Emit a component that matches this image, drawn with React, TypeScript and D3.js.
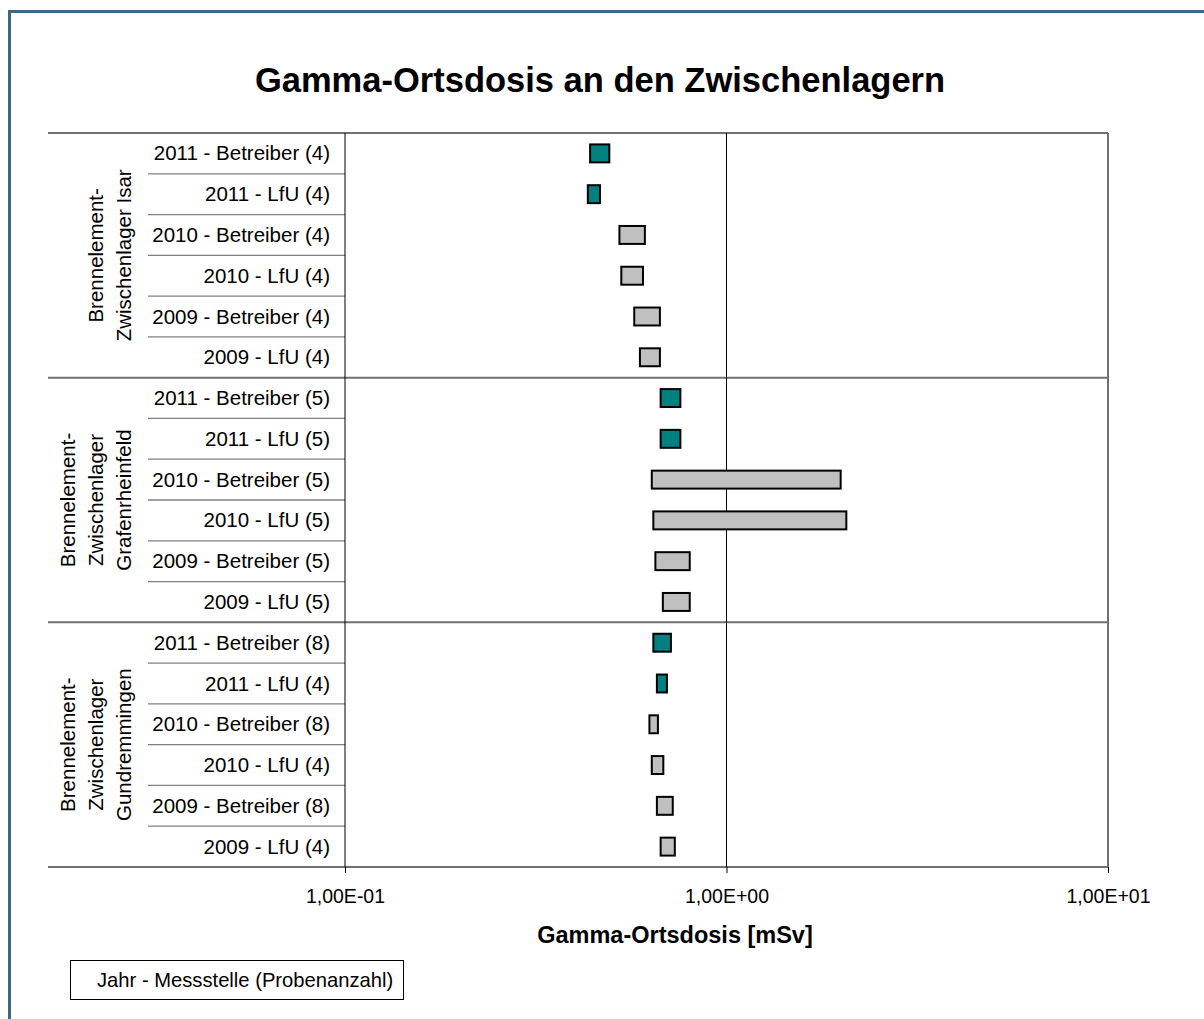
import React, { useEffect, useRef } from 'react';
import * as d3 from 'd3';

// Gamma-Ortsdosis an den Zwischenlagern – range bars (min..max) per measurement series
const groupLabels = [
  ['Brennelement-', 'Zwischenlager Isar'],
  ['Brennelement-', 'Zwischenlager', 'Grafenrheinfeld'],
  ['Brennelement-', 'Zwischenlager', 'Gundremmingen'],
];

const rowLabels = [
  '2011 - Betreiber (4)', '2011 - LfU (4)', '2010 - Betreiber (4)', '2010 - LfU (4)', '2009 - Betreiber (4)', '2009 - LfU (4)',
  '2011 - Betreiber (5)', '2011 - LfU (5)', '2010 - Betreiber (5)', '2010 - LfU (5)', '2009 - Betreiber (5)', '2009 - LfU (5)',
  '2011 - Betreiber (8)', '2011 - LfU (4)', '2010 - Betreiber (8)', '2010 - LfU (4)', '2009 - Betreiber (8)', '2009 - LfU (4)',
];

const minValues = [
  0.439, 0.433, 0.524, 0.530, 0.573, 0.593,
  0.672, 0.672, 0.637, 0.643, 0.651, 0.681,
  0.643, 0.657, 0.628, 0.637, 0.657, 0.672,
];

const maxValues = [
  0.493, 0.466, 0.611, 0.604, 0.669, 0.669,
  0.757, 0.757, 1.992, 2.061, 0.801, 0.801,
  0.715, 0.698, 0.661, 0.683, 0.723, 0.732,
];

const tickValues = [0.1, 1, 10];
const tickLabels = ['1,00E-01', '1,00E+00', '1,00E+01'];

const W = 1204;
const H = 1019;
const FONT = '"Liberation Sans", Arial, sans-serif';

const App = () => {
  const svgRef = useRef<SVGSVGElement>(null);

  useEffect(() => {
    const svg = d3.select(svgRef.current);
    svg.selectAll('*').remove();

    const plot = { left: 345, right: 1108, top: 133, bottom: 867 };
    const labelLeft = 48;
    const rowLineLeft = 148;

    const x = d3.scaleLog().domain([0.1, 10]).range([plot.left, plot.right]);
    const y = d3.scaleBand<number>()
      .domain(rowLabels.map((d, i) => i))
      .range([plot.top, plot.bottom])
      .padding(0);
    const bw = y.bandwidth();
    const rowsPerGroup = rowLabels.length / groupLabels.length;

    // outer frame
    svg.append('rect')
      .attr('x', 9.5).attr('y', 11.5)
      .attr('width', W + 20).attr('height', H + 20)
      .attr('fill', 'white')
      .attr('stroke', '#3d6880')
      .attr('stroke-width', 3);

    // title
    svg.append('text')
      .attr('x', 600).attr('y', 92)
      .attr('text-anchor', 'middle')
      .attr('font-family', FONT).attr('font-weight', 'bold').attr('font-size', 34.5)
      .text('Gamma-Ortsdosis an den Zwischenlagern');

    // row separators in the label area
    const rowLines = svg.append('g');
    rowLabels.forEach((d, i) => {
      if (i === 0 || i % rowsPerGroup === 0) return;
      rowLines.append('line')
        .attr('x1', rowLineLeft).attr('x2', plot.left)
        .attr('y1', y(i)!).attr('y2', y(i)!)
        .attr('stroke', '#808080').attr('stroke-width', 1.3);
    });

    // group separators and plot top/bottom/right borders
    const borders = svg.append('g').attr('stroke', '#707070').attr('stroke-width', 2);
    for (let g = 0; g <= groupLabels.length; g++) {
      const yy = g === groupLabels.length ? plot.bottom : y(g * rowsPerGroup)!;
      borders.append('line')
        .attr('x1', labelLeft).attr('x2', plot.right)
        .attr('y1', yy).attr('y2', yy);
    }
    borders.append('line')
      .attr('x1', plot.right).attr('x2', plot.right)
      .attr('y1', plot.top).attr('y2', plot.bottom);

    // gridline at 1 and y axis line at 0.1
    svg.append('line')
      .attr('x1', x(1)).attr('x2', x(1))
      .attr('y1', plot.top).attr('y2', plot.bottom)
      .attr('stroke', '#000').attr('stroke-width', 1);
    svg.append('line')
      .attr('x1', x(0.1)).attr('x2', x(0.1))
      .attr('y1', plot.top).attr('y2', plot.bottom)
      .attr('stroke', '#000').attr('stroke-width', 1);

    // x axis
    const axis = svg.append('g')
      .attr('transform', `translate(0,${plot.bottom})`)
      .call(d3.axisBottom(x)
        .tickValues(tickValues)
        .tickFormat((d, i) => tickLabels[i])
        .tickSize(6)
        .tickSizeOuter(0)
        .tickPadding(16));
    axis.select('.domain').remove();
    axis.selectAll('line').attr('stroke', '#000');
    axis.selectAll('text')
      .attr('font-family', FONT).attr('font-size', 19.5).attr('fill', '#000');

    svg.append('text')
      .attr('x', 675).attr('y', 943)
      .attr('text-anchor', 'middle')
      .attr('font-family', FONT).attr('font-weight', 'bold').attr('font-size', 23.5)
      .text('Gamma-Ortsdosis [mSv]');

    // bars
    const barH = bw * 0.44;
    svg.append('g')
      .selectAll('rect')
      .data(rowLabels)
      .join('rect')
      .attr('x', (d, i) => x(minValues[i]))
      .attr('y', (d, i) => y(i)! + (bw - barH) / 2)
      .attr('width', (d, i) => x(maxValues[i]) - x(minValues[i]))
      .attr('height', barH)
      .attr('fill', d => (d.startsWith('2011') ? '#008080' : '#c0c0c0'))
      .attr('stroke', '#000')
      .attr('stroke-width', 2);

    // row labels
    svg.append('g')
      .selectAll('text')
      .data(rowLabels)
      .join('text')
      .attr('x', 330)
      .attr('y', (d, i) => y(i)! + bw / 2 + 7)
      .attr('text-anchor', 'end')
      .attr('font-family', FONT).attr('font-size', 20.5)
      .text(d => d);

    // group labels (rotated)
    groupLabels.forEach((lines, g) => {
      const cy = y(g * rowsPerGroup)! + (bw * rowsPerGroup) / 2;
      const lastX = 131;
      lines.forEach((line, k) => {
        const bx = lastX - (lines.length - 1 - k) * 28;
        svg.append('text')
          .attr('transform', `translate(${bx},${cy}) rotate(-90)`)
          .attr('text-anchor', 'middle')
          .attr('font-family', FONT).attr('font-size', 20.5)
          .text(line);
      });
    });

    // legend
    svg.append('rect')
      .attr('x', 70.5).attr('y', 960.5)
      .attr('width', 333).attr('height', 39)
      .attr('fill', 'white').attr('stroke', '#000').attr('stroke-width', 1);
    svg.append('text')
      .attr('x', 97).attr('y', 987)
      .attr('font-family', FONT).attr('font-size', 20.2)
      .text('Jahr - Messstelle (Probenanzahl)');
  }, []);

  return (
    <svg
      ref={svgRef}
      width={W}
      height={H}
      style={{ position: 'absolute', left: 0, top: 0, background: 'white' }}
    />
  );
};

export default App;
